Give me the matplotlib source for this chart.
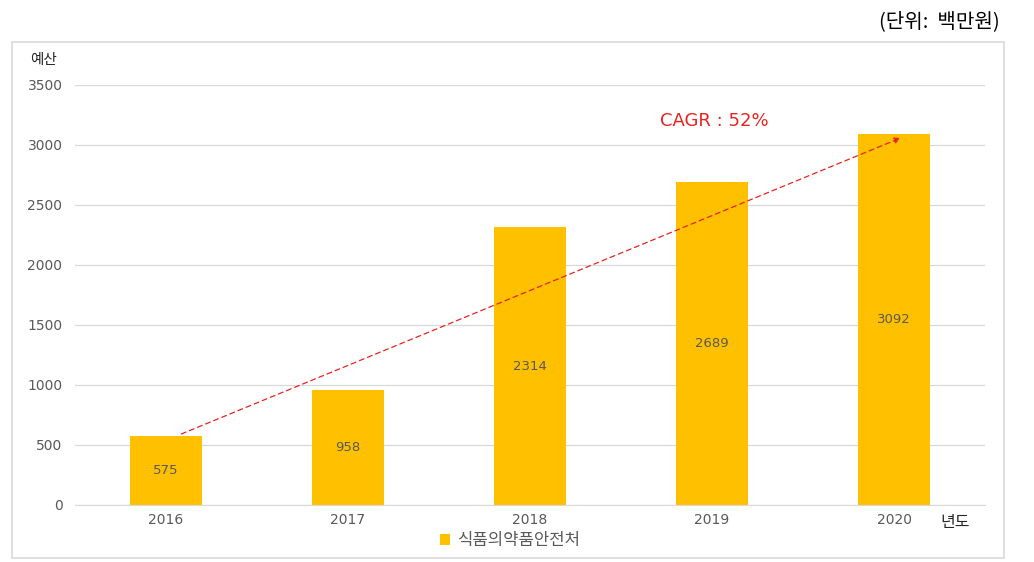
import matplotlib.pyplot as plt
from matplotlib.patches import Rectangle

plt.rcParams["font.family"] = ["Noto Sans CJK KR", "DejaVu Sans"]

years = ["2016", "2017", "2018", "2019", "2020"]
budget = [575, 958, 2314, 2689, 3092]
series_name = "식품의약품안전처"
cagr_label = "CAGR : 52%"

NUM_FONT = ["DejaVu Sans"]

fig = plt.figure(figsize=(10.34, 5.62), dpi=100)
ax = fig.add_axes([75 / 1034, 1 - 505 / 562, 910 / 1034, 420 / 562])

# 외곽 테두리
fig.patches.append(Rectangle((12 / 1034, 1 - 558 / 562), 992 / 1034, 516 / 562,
                             transform=fig.transFigure, fill=False,
                             edgecolor="#d9d9d9", linewidth=1.2))

x = list(range(len(years)))
ax.bar(x, budget, width=0.4, color="#FFC000", label=series_name, zorder=2)
for xi, v in zip(x, budget):
    ax.text(xi, v / 2, str(v), ha="center", va="center", fontsize=9.5,
            color="#595959", family=NUM_FONT)

ax.set_xlim(-0.5, len(years) - 0.5)
ax.set_ylim(0, 3500)
ax.set_yticks(range(0, 3501, 500))
ax.set_xticks(x)
ax.set_xticklabels(years)
ax.tick_params(axis="both", length=0, labelsize=10, colors="#595959")
ax.tick_params(axis="y", pad=9)
ax.tick_params(axis="x", pad=5.5)
for lab in ax.get_xticklabels() + ax.get_yticklabels():
    lab.set_family(NUM_FONT)
ax.grid(axis="y", color="#d9d9d9", linewidth=0.9, zorder=0)
for s in ["top", "right", "left"]:
    ax.spines[s].set_visible(False)
ax.spines["bottom"].set_color("#d9d9d9")

# CAGR 화살표
ax.annotate("", xy=(4.05, 3067), xytext=(0.07, 583),
            arrowprops=dict(arrowstyle="-|>", linestyle=(0, (4, 3)), color="#e8231f",
                            linewidth=0.9, mutation_scale=9), zorder=3)
ax.text(3.01, 3200, cagr_label, ha="center", va="center", fontsize=13,
        color="#e8231f", family=NUM_FONT)

fig.text(43 / 1034, 1 - 60 / 562, "예산", ha="center", va="center", fontsize=10.5, color="#262626")
fig.text(955 / 1034, 1 - 523 / 562, "년도", ha="center", va="center", fontsize=11.5, color="#262626")
fig.text(1000 / 1034, 1 - 22 / 562, "(단위:  백만원)", ha="right", va="center", fontsize=14.5, color="#000000")

ax.legend(loc="center", bbox_to_anchor=(510 / 1034, 1 - 541 / 562),
          bbox_transform=fig.transFigure, frameon=False, fontsize=12,
          handlelength=0.6, handleheight=0.6, handletextpad=0.4, labelcolor="#595959")

fig.savefig("out.png", dpi=100)
